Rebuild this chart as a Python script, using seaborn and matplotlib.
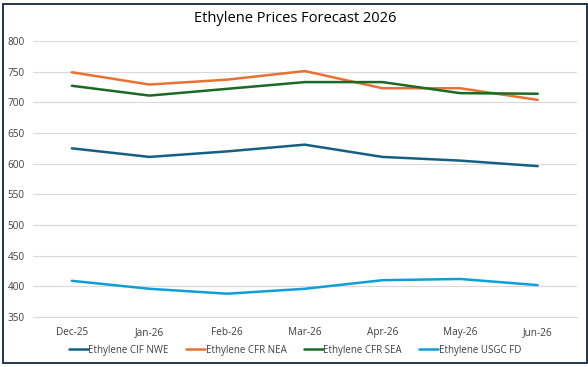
import matplotlib
matplotlib.use("Agg")
import matplotlib.pyplot as plt
import seaborn as sns
import pandas as pd
from matplotlib.patches import Rectangle

months = ["Dec-25", "Jan-26", "Feb-26", "Mar-26", "Apr-26", "May-26", "Jun-26"]
cif_nwe = [625, 611, 620, 631, 611, 605, 596]
cfr_nea = [749, 729, 737, 751, 723, 723, 704]
cfr_sea = [727, 711, 722, 733, 733, 715, 714]
usgc_fd = [409, 396, 388, 396, 410, 412, 402]
series_names = ["Ethylene CIF NWE", "Ethylene CFR NEA", "Ethylene CFR SEA", "Ethylene USGC FD"]
colors = ["#156082", "#E97132", "#196B24", "#0F9ED5"]
yticks = [350, 400, 450, 500, 550, 600, 650, 700, 750, 800]

rows = []
for name, vals in zip(series_names, [cif_nwe, cfr_nea, cfr_sea, usgc_fd]):
    for m, v in zip(months, vals):
        rows.append({"Month": m, "Series": name, "Price": v})
df = pd.DataFrame(rows)

sns.set_theme(style="white")
plt.rcParams["font.family"] = ["Open Sans", "DejaVu Sans"]

fig = plt.figure(figsize=(5.88, 3.67), dpi=100)
ax = fig.add_axes([33/588, 1 - 317/367, (576.5 - 33)/588, (317 - 41)/367])

sns.lineplot(data=df, x="Month", y="Price", hue="Series", hue_order=series_names,
             palette=colors, sort=False, linewidth=1.8, ax=ax, legend=True)

ax.set_xlim(-0.5, len(months) - 0.5)
ax.set_ylim(350, 800)
ax.set_yticks(yticks)
ax.set_xlabel("")
ax.set_ylabel("")
ax.grid(axis="y", color="#D9D9D9", linewidth=0.8)
ax.set_axisbelow(True)
for s in ["top", "right", "left"]:
    ax.spines[s].set_visible(False)
ax.spines["bottom"].set_color("#D9D9D9")
ax.spines["bottom"].set_linewidth(0.8)
ax.tick_params(axis="both", length=0, labelsize=7.2, colors="#404040")
ax.tick_params(axis="x", pad=7)
ax.tick_params(axis="y", pad=6)

handles, labels = ax.get_legend_handles_labels()
ax.legend(handles, labels, loc="center", bbox_to_anchor=(0.482, -0.12), ncol=4,
          frameon=False, fontsize=7, handlelength=1.95, handletextpad=0.05,
          columnspacing=1.8, labelcolor="#404040")

fig.text(295/588, 1 - 18/367, "Ethylene Prices Forecast 2026", ha="center", va="center",
         fontsize=10.5, color="#000000")

fig.patches.append(Rectangle((3/588, 4/367), 583.5/588, 359/367, transform=fig.transFigure,
                             fill=False, edgecolor="#0E2841", linewidth=1.3))

fig.savefig("out.png", dpi=100)
